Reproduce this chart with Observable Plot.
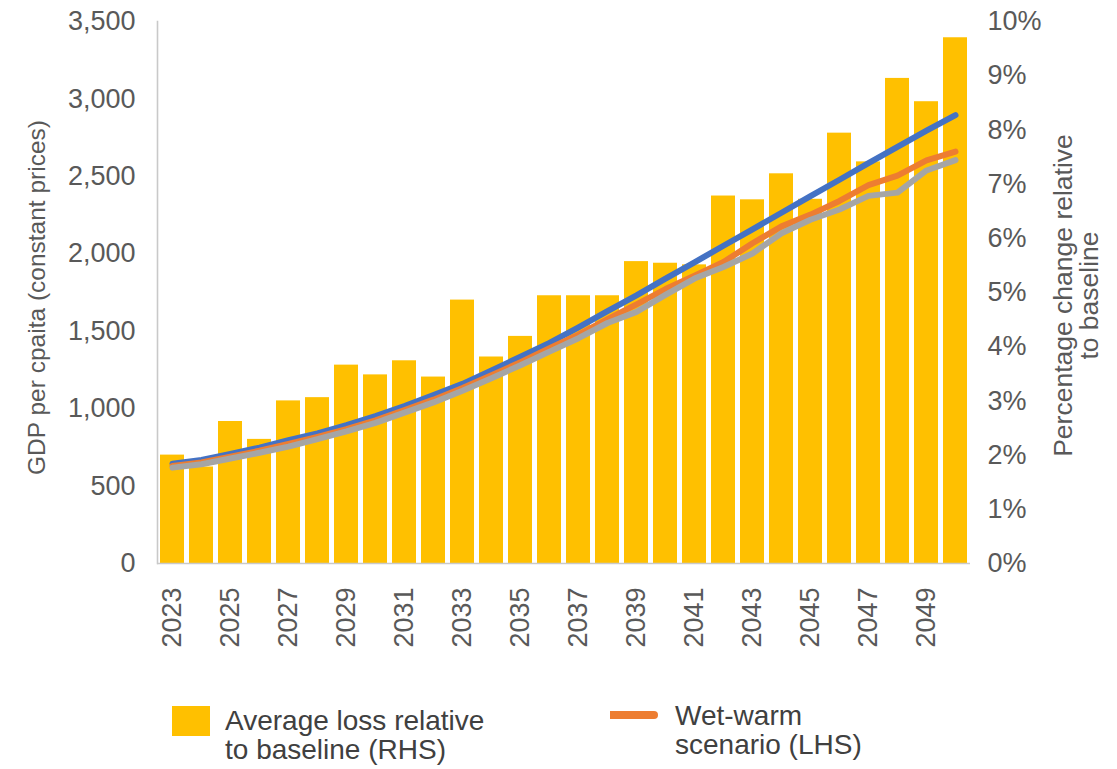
<!DOCTYPE html>
<html>
<head>
<meta charset="utf-8">
<script src="https://cdn.jsdelivr.net/npm/d3@7"></script>
<script src="https://cdn.jsdelivr.net/npm/@observablehq/plot@0.6"></script>
<style>
  html, body { margin: 0; padding: 0; background: #fff; }
  #chart { width: 1117px; }
  .legend { position: relative; width: 1117px; height: 79px; font-family: "Liberation Sans", Arial, sans-serif; font-size: 28px; color: #404040; }
  .legend .item { position: absolute; display: flex; align-items: flex-start; line-height: 29px; }
  .legend .sw-bar { width: 38px; height: 30px; background: #FFC000; margin-top: 0px; margin-right: 15px; }
  .legend .sw-line { width: 48px; height: 8px; background: #ED7D31; border-radius: 0 4px 4px 0; margin-top: 10px; margin-right: 17px; }
</style>
</head>
<body>
<div id="chart"></div>
<div class="legend">
  <div class="item" style="left:172px; top:16px;">
    <div class="sw-bar"></div>
    <div>Average loss relative<br>to baseline (RHS)</div>
  </div>
  <div class="item" style="left:610px; top:11px;">
    <div class="sw-line"></div>
    <div>Wet-warm<br>scenario (LHS)</div>
  </div>
</div>
<script>
// Years on the x axis
const years = [2023, 2024, 2025, 2026, 2027, 2028, 2029, 2030, 2031, 2032,
               2033, 2034, 2035, 2036, 2037, 2038, 2039, 2040, 2041, 2042,
               2043, 2044, 2045, 2046, 2047, 2048, 2049, 2050];

// Average loss relative to baseline, % (right-hand scale)
const lossPct = [2.00, 1.78, 2.62, 2.29, 3.00, 3.06, 3.66, 3.48, 3.74, 3.44,
                 4.86, 3.81, 4.19, 4.94, 4.94, 4.94, 5.57, 5.54, 5.51, 6.78,
                 6.71, 7.19, 6.72, 7.94, 7.41, 8.95, 8.52, 9.70];

// GDP per capita, constant prices (left-hand scale)
const baselineGdp = [645, 668, 708, 748, 796, 840, 893, 952, 1017, 1087,
                     1160, 1247, 1335, 1424, 1525, 1630, 1732, 1840, 1945, 2052,
                     2158, 2265, 2372, 2478, 2585, 2690, 2795, 2895];
const wetWarmGdp = [630, 652, 690, 728, 772, 818, 868, 925, 990, 1058,
                    1133, 1215, 1300, 1390, 1478, 1578, 1673, 1772, 1859, 1947,
                    2068, 2177, 2253, 2341, 2444, 2505, 2603, 2660];
const hotDryGdp = [619, 641, 678, 715, 755, 803, 853, 908, 974, 1040,
                   1116, 1197, 1280, 1368, 1455, 1553, 1625, 1735, 1840, 1915,
                   2002, 2133, 2220, 2286, 2374, 2395, 2538, 2605];

// Axis ticks
const gdpTicks = [0, 500, 1000, 1500, 2000, 2500, 3000, 3500];
const pctTicks = [0, 1, 2, 3, 4, 5, 6, 7, 8, 9, 10];
const yearTicks = [2023, 2025, 2027, 2029, 2031, 2033, 2035, 2037, 2039, 2041, 2043, 2045, 2047, 2049];

// The right-hand percentage scale shares the left scale: 10% ↔ 3,500
const gdpMax = 3500;
const pctMax = 10;
const pctToGdp = gdpMax / pctMax;

const rows = years.map((year, i) => ({
  year,
  loss: lossPct[i],
  baseline: baselineGdp[i],
  wetWarm: wetWarmGdp[i],
  hotDry: hotDryGdp[i]
}));

const axisGrey = "#c9c9c9";
const textGrey = "#595959";

const chart = Plot.plot({
  width: 1117,
  height: 690,
  marginTop: 21,
  marginBottom: 127,
  marginLeft: 157,
  marginRight: 147,
  style: { fontFamily: "'Liberation Sans', Arial, sans-serif", fontSize: "27px", color: textGrey, background: "#fff" },
  x: { type: "band", domain: years, paddingInner: 0.16, paddingOuter: 0.03, label: null },
  y: { domain: [0, gdpMax], label: null },
  marks: [
    Plot.barY(rows, { x: "year", y: d => d.loss * pctToGdp, fill: "#FFC000" }),
    Plot.ruleY([0], { stroke: axisGrey, strokeWidth: 1.6 }),
    Plot.frame({ anchor: "left", stroke: axisGrey, strokeWidth: 1.6 }),
    Plot.line(rows, { x: "year", y: "baseline", stroke: "#4472C4", strokeWidth: 6 }),
    Plot.line(rows, { x: "year", y: "wetWarm", stroke: "#ED7D31", strokeWidth: 6 }),
    Plot.line(rows, { x: "year", y: "hotDry", stroke: "#A5A5A5", strokeWidth: 6 }),
    Plot.axisY({ anchor: "left", ticks: gdpTicks, tickFormat: d3.format(","), tickSize: 0, tickPadding: 22, label: null }),
    Plot.axisY({ anchor: "right", ticks: pctTicks.map(p => p * pctToGdp), tickFormat: d => `${Math.round(d / pctToGdp)}%`, tickSize: 0, tickPadding: 17, label: null }),
    Plot.axisX({ ticks: yearTicks, tickFormat: d => String(d), tickRotate: -90, tickSize: 0, tickPadding: 24, label: null }),
    Plot.text(["GDP per cpaita (constant prices)"], {
      frameAnchor: "left", text: d => d, rotate: -90, dx: -120, dy: 5,
      fontSize: 24.5, fill: textGrey, textAnchor: "middle"
    }),
    Plot.text(["Percentage change relative\nto baseline"], {
      frameAnchor: "right", text: d => d, rotate: -90, dx: 106, dy: 3,
      fontSize: 26.5, fill: textGrey, textAnchor: "middle", lineHeight: 0.98
    })
  ]
});

document.getElementById("chart").append(chart);
</script>
</body>
</html>
